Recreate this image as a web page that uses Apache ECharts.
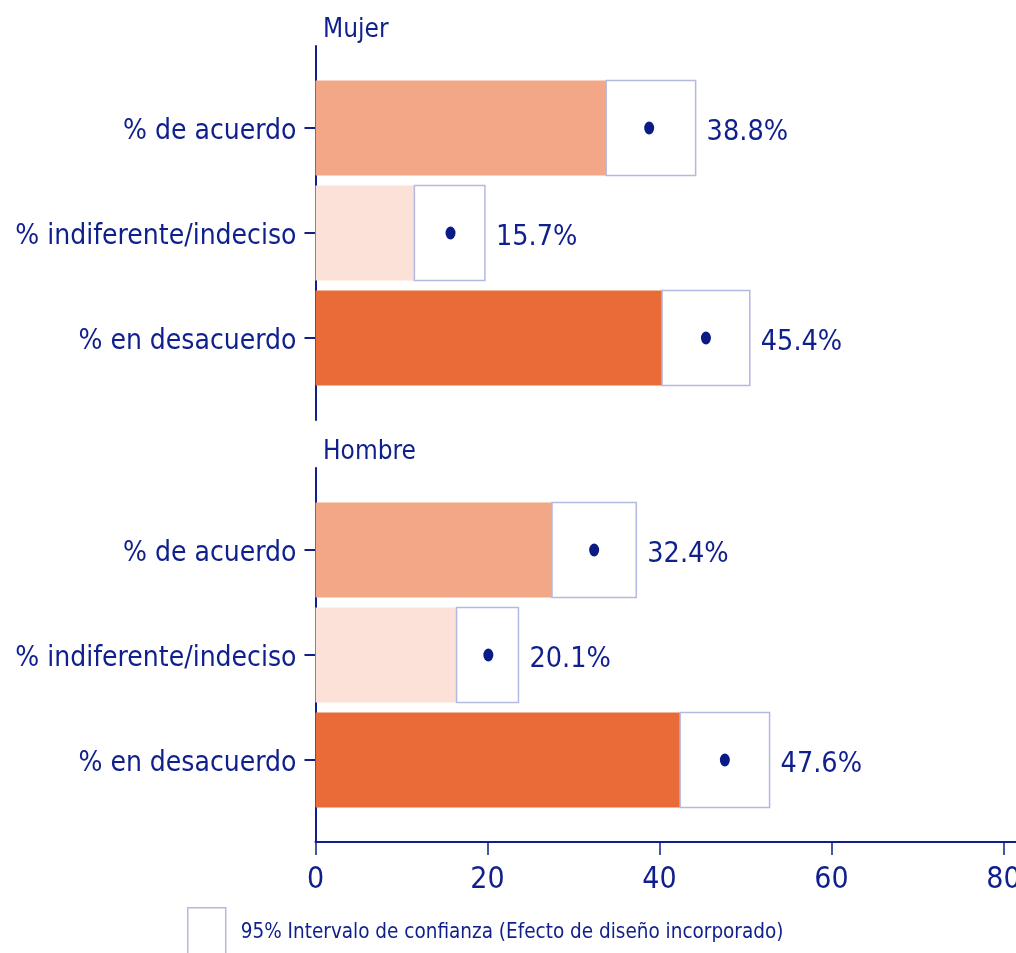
<!DOCTYPE html>
<html>
<head>
<meta charset="utf-8">
<script src="https://cdn.jsdelivr.net/npm/echarts@6/dist/echarts.min.js"></script>
<style>
    html, body { margin: 0; padding: 0; background: #fff; }
    #main { width: 1016px; height: 953px; }
</style>
</head>
<body>
<div id="main"></div>
<script>
// datos
const categories = ['% de acuerdo', '% indiferente/indeciso', '% en desacuerdo'];
const panels = ['Mujer', 'Hombre'];
const mujerValues = [38.8, 15.7, 45.4];
const mujerLow = [33.8, 11.5, 40.3];
const mujerHigh = [44.2, 19.7, 50.5];
const hombreValues = [32.4, 20.1, 47.6];
const hombreLow = [27.5, 16.4, 42.4];
const hombreHigh = [37.3, 23.6, 52.8];
const xTicks = [0, 20, 40, 60, 80];
const ciName = '95% Intervalo de confianza (Efecto de diseño incorporado)';

const navy = '#0f1f8c';
const barColors = ['#f2a886', '#fbe1d8', '#e96c38'];
const ciBorder = '#b3b9e0';
const font = "'Liberation Sans Narrow', 'Arial Narrow', 'DejaVu Sans Condensed', sans-serif";

const barRatio = 0.905;

const barItem = (params, api) => {
    const idx = api.value(1);
    const start = api.coord([0, idx]);
    const end = api.coord([api.value(0), idx]);
    const h = api.size([0, 1])[1] * barRatio;
    return {
        type: 'rect',
        shape: {x: start[0], y: start[1] - h / 2, width: end[0] - start[0], height: h},
        style: {fill: barColors[idx]}
    };
};

const ciItem = (params, api) => {
    const idx = api.value(1);
    const lo = api.coord([api.value(0), idx]);
    const hi = api.coord([api.value(2), idx]);
    const h = api.size([0, 1])[1] * barRatio;
    return {
        type: 'group',
        children: [
            {
                type: 'rect',
                shape: {x: lo[0], y: lo[1] - h / 2, width: hi[0] - lo[0], height: h},
                style: {fill: '#fff', stroke: ciBorder, lineWidth: 1.5}
            },
            {
                type: 'text',
                x: hi[0] + 11,
                y: hi[1] + 5,
                style: {
                    text: api.value(3).toFixed(1) + '%',
                    fill: navy,
                    fontSize: 28.5,
                    fontFamily: font,
                    verticalAlign: 'middle'
                }
            }
        ]
    };
};

const barData = vals => vals.map((v, i) => [v, i]);
const ciData = (lo, hi, vals) => vals.map((v, i) => [lo[i], i, hi[i], v]);

const grids = [
    {left: 315.5, right: 0, top: 46, height: 374, outerBoundsMode: 'none', containLabel: false},
    {left: 315.5, right: 0, top: 468, height: 374, outerBoundsMode: 'none', containLabel: false}
];

const yAxisFor = gi => ({
    type: 'value',
    gridIndex: gi,
    inverse: true,
    min: -0.781,
    max: 2.781,
    splitLine: {show: false},
    axisLine: {show: true, onZero: false, lineStyle: {color: navy, width: 2}},
    axisTick: {show: true, customValues: [0, 1, 2], length: 11, lineStyle: {color: navy, width: 2}},
    axisLabel: {
        customValues: [0, 1, 2],
        formatter: v => '{c|' + categories[Math.round(v)] + '}',
        margin: 19,
        rich: {
            c: {color: navy, fontSize: 28, fontFamily: font, padding: [8, 0, 0, 0]}
        }
    }
});

const xMax = 700.5 / 8.6;

const option = {
    backgroundColor: '#fff',
    animation: false,
    title: panels.map((p, i) => ({
        text: p,
        left: 318,
        top: i === 0 ? 12 : 434,
        textStyle: {color: navy, fontSize: 26, fontWeight: 'normal', fontFamily: font}
    })),
    legend: {
        left: 187,
        top: 907,
        padding: 0,
        itemWidth: 38,
        itemHeight: 50,
        data: [{
            name: ciName,
            icon: 'rect',
            itemStyle: {color: '#fff', borderColor: ciBorder, borderWidth: 1.5}
        }],
        textStyle: {color: navy, fontSize: 20.5, fontFamily: font, padding: [0, 0, 0, 10]}
    },
    grid: grids,
    xAxis: [
        {type: 'value', gridIndex: 0, min: 0, max: xMax, show: false},
        {
            type: 'value',
            gridIndex: 1,
            min: 0,
            max: xMax,
            splitLine: {show: false},
            axisLine: {show: true, onZero: false, lineStyle: {color: navy, width: 2}},
            axisTick: {show: true, customValues: xTicks, length: 13, lineStyle: {color: navy, width: 1.5}},
            axisLabel: {
                customValues: xTicks,
                color: navy,
                fontSize: 30,
                fontFamily: font,
                margin: 23
            }
        }
    ],
    yAxis: [yAxisFor(0), yAxisFor(1)],
    series: [
        {
            type: 'custom', name: 'Mujer', xAxisIndex: 0, yAxisIndex: 0, z: 2,
            renderItem: barItem, encode: {x: 0, y: 1}, data: barData(mujerValues)
        },
        {
            type: 'custom', name: ciName, xAxisIndex: 0, yAxisIndex: 0, z: 3,
            renderItem: ciItem, encode: {x: [0, 2], y: 1}, data: ciData(mujerLow, mujerHigh, mujerValues)
        },
        {
            type: 'scatter', xAxisIndex: 0, yAxisIndex: 0, z: 4,
            symbol: 'circle', symbolSize: [10, 13], itemStyle: {color: '#0a1b86', opacity: 1},
            data: barData(mujerValues)
        },
        {
            type: 'custom', name: 'Hombre', xAxisIndex: 1, yAxisIndex: 1, z: 2,
            renderItem: barItem, encode: {x: 0, y: 1}, data: barData(hombreValues)
        },
        {
            type: 'custom', name: ciName, xAxisIndex: 1, yAxisIndex: 1, z: 3,
            renderItem: ciItem, encode: {x: [0, 2], y: 1}, data: ciData(hombreLow, hombreHigh, hombreValues)
        },
        {
            type: 'scatter', xAxisIndex: 1, yAxisIndex: 1, z: 4,
            symbol: 'circle', symbolSize: [10, 13], itemStyle: {color: '#0a1b86', opacity: 1},
            data: barData(hombreValues)
        }
    ]
};

const chart = echarts.init(document.getElementById('main'));
chart.setOption(option);
</script>
</body>
</html>
